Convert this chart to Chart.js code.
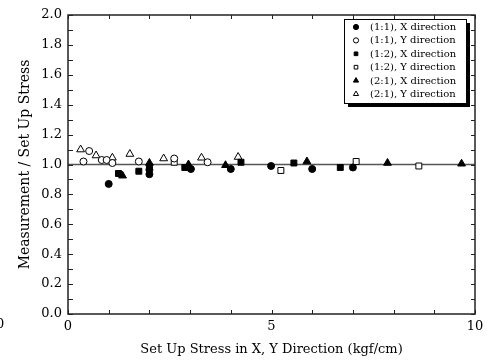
<!DOCTYPE html>
<html>
<head>
<meta charset="utf-8">
<script src="https://cdn.jsdelivr.net/npm/chart.js@4/dist/chart.umd.min.js"></script>
<style>
  html, body { margin: 0; padding: 0; background: #fff; }
  #wrap { width: 495px; height: 362px; }
</style>
</head>
<body>
<div id="wrap"><canvas id="stressChart" width="495" height="362"></canvas></div>
<script>
// measured / set-up stress ratios, one list per specimen and direction
var seriesLabels = [
    '(1:1), X direction',
    '(1:1), Y direction',
    '(1:2), X direction',
    '(1:2), Y direction',
    '(2:1), X direction',
    '(2:1), Y direction'
];

var ratio11X = [
    { x: 1.00, y: 0.87 }, { x: 2.00, y: 0.965 }, { x: 2.00, y: 0.935 },
    { x: 3.02, y: 0.97 }, { x: 4.00, y: 0.97 }, { x: 4.99, y: 0.99 },
    { x: 6.00, y: 0.97 }, { x: 7.00, y: 0.98 }
];
var ratio11Y = [
    { x: 0.38, y: 1.02 }, { x: 0.52, y: 1.09 }, { x: 0.83, y: 1.03 },
    { x: 0.95, y: 1.03 }, { x: 1.09, y: 1.01 }, { x: 1.74, y: 1.02 },
    { x: 2.61, y: 1.04 }, { x: 3.43, y: 1.015 }
];
var ratio12X = [
    { x: 1.24, y: 0.94 }, { x: 1.74, y: 0.955 }, { x: 2.00, y: 0.985 },
    { x: 2.87, y: 0.98 }, { x: 4.25, y: 1.015 }, { x: 5.55, y: 1.01 },
    { x: 6.69, y: 0.98 }
];
var ratio12Y = [
    { x: 2.61, y: 1.015 }, { x: 5.23, y: 0.96 }, { x: 7.08, y: 1.02 },
    { x: 8.62, y: 0.99 }
];
var ratio21X = [
    { x: 1.34, y: 0.925 }, { x: 2.00, y: 1.01 }, { x: 2.96, y: 1.00 },
    { x: 3.87, y: 0.995 }, { x: 5.87, y: 1.02 }, { x: 7.85, y: 1.01 },
    { x: 9.67, y: 1.005 }
];
var ratio21Y = [
    { x: 0.31, y: 1.10 }, { x: 0.69, y: 1.06 }, { x: 1.09, y: 1.045 },
    { x: 1.52, y: 1.07 }, { x: 2.35, y: 1.04 }, { x: 3.28, y: 1.045 },
    { x: 4.18, y: 1.05 }
];
var unityLine = [ { x: 0, y: 1 }, { x: 10, y: 1 } ];

var xLabelTicks = [0, 5, 10];
var yLabelTicks = [0, 0.2, 0.4, 0.6, 0.8, 1.0, 1.2, 1.4, 1.6, 1.8, 2.0];

var SERIF = '"DejaVu Serif", "Liberation Serif", serif';

function markerSet(data, label, style, filled, radius){
    return {
        label: label,
        data: data,
        showLine: false,
        pointStyle: style,
        pointRadius: radius,
        pointHoverRadius: radius,
        pointBorderWidth: 1,
        pointBorderColor: '#000',
        pointBackgroundColor: filled ? '#000' : '#fff',
        inLegend: true
    };
}

function isLabelled(list, v){
    for(var i = 0; i < list.length; i++){
        if(Math.abs(list[i] - v) < 1e-6) return true;
    }
    return false;
}

// inward ticks on all four sides plus the closed frame
var frameTicks = {
    id: 'frameTicks',
    afterDraw: function(chart){
        var ctx = chart.ctx, a = chart.chartArea;
        var xs = chart.scales.x, ys = chart.scales.y;
        ctx.save();
        ctx.strokeStyle = '#222';
        ctx.lineWidth = 1.5;
        ctx.strokeRect(a.left, a.top, a.right - a.left, a.bottom - a.top);
        ctx.lineWidth = 1;
        ctx.beginPath();
        var v, px;
        for(v = 0; v <= 10; v++){
            px = Math.round(xs.getPixelForValue(v)) + 0.5;
            ctx.moveTo(px, a.bottom); ctx.lineTo(px, a.bottom - 4);
            ctx.moveTo(px, a.top); ctx.lineTo(px, a.top + 4);
        }
        for(v = 0; v <= 20; v++){
            px = Math.round(ys.getPixelForValue(v / 10)) + 0.5;
            ctx.moveTo(a.left, px); ctx.lineTo(a.left + 5, px);
            ctx.moveTo(a.right, px); ctx.lineTo(a.right - 4, px);
        }
        ctx.stroke();
        // partial digit clipped at the left edge
        ctx.fillStyle = '#000';
        ctx.font = '13px ' + SERIF;
        ctx.textBaseline = 'middle';
        ctx.fillText('0', -4, 325);
        ctx.restore();
    }
};

// boxed legend with a drop shadow in the upper right
var boxLegend = {
    id: 'boxLegend',
    afterDraw: function(chart){
        var ctx = chart.ctx;
        var left = 344, top = 19, w = 122, h = 84, shadow = 4;
        ctx.save();
        ctx.fillStyle = '#000';
        ctx.fillRect(left + shadow, top + shadow, w, h);
        ctx.fillStyle = '#fff';
        ctx.fillRect(left, top, w, h);
        ctx.strokeStyle = '#000';
        ctx.lineWidth = 1;
        ctx.strokeRect(left + 0.5, top + 0.5, w, h);
        ctx.font = '10px ' + SERIF;
        ctx.textBaseline = 'middle';
        var row = 0;
        chart.data.datasets.forEach(function(ds){
            if(!ds.inLegend) return;
            var cy = top + 8 + row * 13.4;
            ctx.fillStyle = ds.pointBackgroundColor;
            ctx.strokeStyle = '#000';
            ctx.lineWidth = 1;
            Chart.helpers.drawPoint(ctx, {
                pointStyle: ds.pointStyle,
                radius: ds.pointStyle === 'triangle' ? 3 : 2.6,
                rotation: 0,
                borderWidth: 1
            }, left + 12, cy);
            ctx.fillStyle = '#000';
            ctx.fillText(ds.label, left + 26, cy + 0.5);
            row++;
        });
        ctx.restore();
    }
};

var datasets = [
    markerSet(ratio11X, seriesLabels[0], 'circle', true, 3.5),
    markerSet(ratio11Y, seriesLabels[1], 'circle', false, 3.5),
    markerSet(ratio12X, seriesLabels[2], 'rect', true, 4.2),
    markerSet(ratio12Y, seriesLabels[3], 'rect', false, 4.2),
    markerSet(ratio21X, seriesLabels[4], 'triangle', true, 4.5),
    markerSet(ratio21Y, seriesLabels[5], 'triangle', false, 4.5),
    {
        label: 'unity',
        data: unityLine,
        showLine: true,
        borderColor: '#555',
        borderWidth: 1.5,
        pointRadius: 0,
        inLegend: false,
        order: 10
    }
];

new Chart(document.getElementById('stressChart'), {
    type: 'scatter',
    data: { datasets: datasets },
    options: {
        responsive: false,
        animation: false,
        layout: { padding: { top: 15, right: 20, left: 0, bottom: 0 } },
        plugins: {
            legend: { display: false },
            tooltip: { enabled: false }
        },
        scales: {
            x: {
                type: 'linear',
                min: 0,
                max: 10,
                afterFit: function(scale){ scale.height = 48; },
                grid: { display: false, drawTicks: false },
                border: { display: false },
                ticks: {
                    stepSize: 1,
                    autoSkip: false,
                    maxRotation: 0,
                    padding: 5,
                    color: '#000',
                    font: { family: SERIF, size: 13 },
                    callback: function(v){ return isLabelled(xLabelTicks, v) ? String(v) : ''; }
                },
                title: {
                    display: true,
                    text: 'Set Up Stress in X, Y Direction (kgf/cm)',
                    color: '#000',
                    font: { family: SERIF, size: 13 },
                    padding: { top: 0, bottom: 5 }
                }
            },
            y: {
                type: 'linear',
                min: 0,
                max: 2,
                afterFit: function(scale){ scale.width = 68; },
                grid: { display: false, drawTicks: false },
                border: { display: false },
                ticks: {
                    stepSize: 0.1,
                    autoSkip: false,
                    padding: 6,
                    color: '#000',
                    font: { family: SERIF, size: 13 },
                    callback: function(v){ return isLabelled(yLabelTicks, v) ? v.toFixed(1) : ''; }
                },
                title: {
                    display: true,
                    text: 'Measurement / Set Up Stress',
                    color: '#000',
                    font: { family: SERIF, size: 14 },
                    padding: { top: 17, bottom: 0 }
                }
            }
        }
    },
    plugins: [frameTicks, boxLegend]
});
</script>
</body>
</html>
